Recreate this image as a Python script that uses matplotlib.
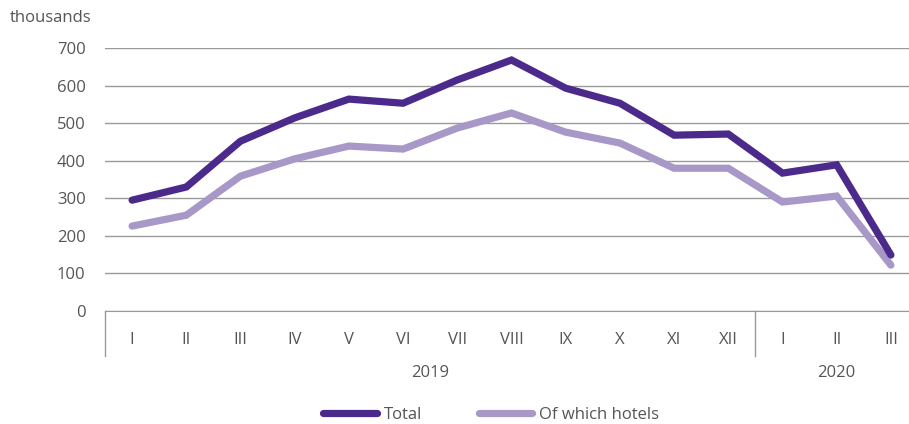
import matplotlib
matplotlib.use("Agg")
import matplotlib.pyplot as plt
import matplotlib.transforms as mtransforms

months = ["I", "II", "III", "IV", "V", "VI", "VII", "VIII", "IX", "X", "XI", "XII", "I", "II", "III"]
years = ["2019", "2020"]
year_counts = [12, 3]
total = [295, 330, 452, 514, 564, 553, 615, 668, 593, 553, 468, 471, 367, 389, 149]
hotels = [226, 255, 359, 405, 439, 431, 487, 527, 476, 447, 380, 380, 290, 306, 122]

plt.rcParams['font.family'] = ['Open Sans', 'DejaVu Sans']
txt = "#555555"

W, H = 909, 424
fig = plt.figure(figsize=(W/100, H/100), dpi=100)
left, right, top, bottom = 105, 909, 48, 311
ax = fig.add_axes([left/W, 1-bottom/H, (right-left)/W, (bottom-top)/H])

x = list(range(len(months)))
ax.plot(x, total, color="#4B2A8C", lw=5.2, solid_capstyle="round", solid_joinstyle="miter", label="Total", zorder=3, clip_on=False)
ax.plot(x, hotels, color="#A898C8", lw=5.2, solid_capstyle="round", solid_joinstyle="miter", label="Of which hotels", zorder=2, clip_on=False)

step = 54.2
xmax = -0.5 + (right-left)/step
ax.set_xlim(-0.5, xmax)
ax.set_ylim(0, 700)
ax.set_yticks(range(0, 701, 100))
ax.yaxis.grid(True, color="#9a9a9a", lw=1.0)
ax.set_axisbelow(True)
for s in ["top", "right", "left"]:
    ax.spines[s].set_visible(False)
ax.spines["bottom"].set_color("#9a9a9a")
ax.tick_params(axis="y", length=0, pad=14, labelsize=12, labelcolor=txt)
ax.set_xticks(x)
ax.set_xticklabels(months)
ax.tick_params(axis="x", length=0, pad=15, labelsize=12, labelcolor=txt)

trans = mtransforms.blended_transform_factory(ax.transData, ax.transAxes)
depth = 45/(bottom-top)
bounds = [-0.5]
for c in year_counts:
    bounds.append(bounds[-1] + c)
for b in bounds[:-1]:
    ax.plot([b, b], [0, -depth], transform=trans, color="#9a9a9a", lw=1.0, clip_on=False)
ypos = -62/(bottom-top)
for i, yr in enumerate(years):
    ax.text((bounds[i]+bounds[i+1])/2, ypos, yr, transform=trans, ha="center", va="center", fontsize=12, color=txt)

fig.text(10/W, 1-18/H, "thousands", fontsize=12, color=txt, ha="left", va="center")

leg = fig.legend(loc="center", bbox_to_anchor=(491/W, 1-415/H), ncol=2, frameon=False,
                 fontsize=12, handlelength=3.2, columnspacing=3.4, handletextpad=0.4)
for t in leg.get_texts():
    t.set_color(txt)

fig.savefig("out.png", dpi=100)
